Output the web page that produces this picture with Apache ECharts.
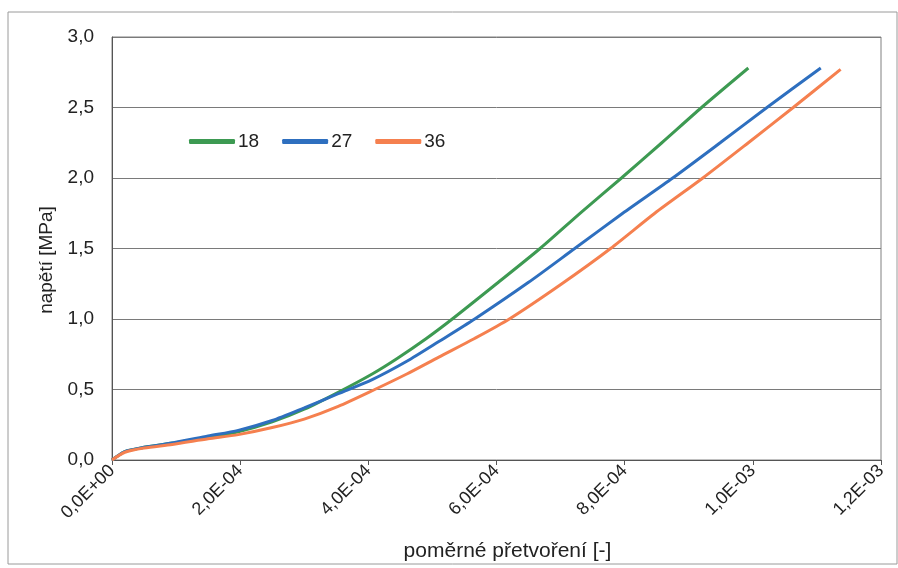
<!DOCTYPE html>
<html>
<head>
<meta charset="utf-8">
<script src="https://cdn.jsdelivr.net/npm/echarts@6/dist/echarts.min.js"></script>
<style>html,body{margin:0;padding:0;background:#fff}#c{width:898px;height:568px}</style>
</head>
<body>
<div id="c"></div>
<script>
// Series names
const seriesNames = ['18', '27', '36'];
// [strain, stress MPa]
const s18 = [[0,0],[0.2e-4,0.06],[0.5e-4,0.09],[0.94e-4,0.12],[1.5e-4,0.16],[1.97e-4,0.20],[2.5e-4,0.27],[3.0e-4,0.36],[3.53e-4,0.48],[4.06e-4,0.61],[4.45e-4,0.72],[4.9e-4,0.86],[5.31e-4,1.0],[6.0e-4,1.25],[6.68e-4,1.5],[7.33e-4,1.76],[7.95e-4,2.0],[8.58e-4,2.25],[9.2e-4,2.5],[9.93e-4,2.78]];
const s27 = [[0,0],[0.2e-4,0.06],[0.5e-4,0.09],[0.94e-4,0.12],[1.5e-4,0.17],[1.97e-4,0.21],[2.5e-4,0.28],[3.0e-4,0.37],[3.53e-4,0.47],[4.06e-4,0.57],[4.6e-4,0.70],[5.1e-4,0.84],[5.66e-4,1.0],[6.5e-4,1.26],[7.22e-4,1.5],[7.97e-4,1.75],[8.75e-4,2.0],[9.49e-4,2.25],[1.022e-3,2.5],[1.106e-3,2.78]];
const s36 = [[0,0],[0.2e-4,0.055],[0.5e-4,0.085],[0.94e-4,0.11],[1.5e-4,0.15],[1.97e-4,0.18],[2.5e-4,0.23],[3.0e-4,0.29],[3.53e-4,0.38],[4.1e-4,0.5],[4.6e-4,0.61],[5.1e-4,0.73],[5.65e-4,0.86],[6.2e-4,1.0],[7.02e-4,1.25],[7.78e-4,1.5],[8.47e-4,1.75],[9.22e-4,2.0],[9.93e-4,2.25],[1.063e-3,2.5],[1.137e-3,2.77]];
// Axis ranges / ticks
const xTicks = [0, 2e-4, 4e-4, 6e-4, 8e-4, 1e-3, 1.2e-3];
const yTicks = [0, 0.5, 1.0, 1.5, 2.0, 2.5, 3.0];
const colors = ['#3d9a52', '#2e6fbf', '#f5804f'];

function fmtExp(v) {
  if (Math.abs(v) < 1e-12) return '0,0E+00';
  let e = Math.floor(Math.log10(Math.abs(v)) + 1e-9);
  let m = v / Math.pow(10, e);
  let ms = m.toFixed(1).replace('.', ',');
  let es = (e < 0 ? '-' : '+') + String(Math.abs(e)).padStart(2, '0');
  return ms + 'E' + es;
}

const chart = echarts.init(document.getElementById('c'));
const font = 'Liberation Sans, Arial, sans-serif';
chart.setOption({
  animation: false,
  backgroundColor: '#fff',
  graphic: [{
    type: 'rect', shape: {x: 8, y: 12, width: 889, height: 552},
    style: {fill: 'none', stroke: '#9a9a9a', lineWidth: 1}, z: -1
  }],
  grid: {left: 112, top: 37, right: 17, bottom: 108, show: true, borderColor: '#808080', borderWidth: 1, backgroundColor: '#fff'},
  legend: {
    data: seriesNames, left: 184, top: 127, itemWidth: 46, itemHeight: 5, itemGap: 23,
    icon: 'roundRect',
    textStyle: {fontFamily: font, fontSize: 19, color: '#222', padding: [0, 0, 0, -2]}
  },
  xAxis: {
    type: 'value', min: xTicks[0], max: xTicks[xTicks.length - 1], interval: 2e-4,
    name: 'poměrné přetvoření [-]', nameLocation: 'middle', nameGap: 81,
    nameTextStyle: {fontFamily: font, fontSize: 21, color: '#222', padding: [0, 0, 0, 22]},
    axisLine: {show: true, lineStyle: {color: '#555', width: 1}},
    axisTick: {show: true, length: 5, lineStyle: {color: '#555'}},
    splitLine: {show: false},
    axisLabel: {rotate: 45, margin: 8, fontFamily: font, fontSize: 18, color: '#222', formatter: fmtExp}
  },
  yAxis: {
    type: 'value', min: yTicks[0], max: yTicks[yTicks.length - 1], interval: 0.5,
    name: 'napětí [MPa]', nameLocation: 'middle', nameGap: 47, nameRotate: 90,
    nameTextStyle: {fontFamily: font, fontSize: 19, color: '#222', padding: [0, 23, 0, 0]},
    axisLine: {show: true, lineStyle: {color: '#555', width: 1}},
    axisTick: {show: false},
    splitLine: {show: true, lineStyle: {color: '#7a7a7a', width: 1}},
    axisLabel: {margin: 18, fontFamily: font, fontSize: 19, color: '#222', formatter: v => v.toFixed(1).replace('.', ',')}
  },
  series: [s18, s27, s36].map((d, i) => ({
    name: seriesNames[i], type: 'line', data: d, showSymbol: false, smooth: 0.25,
    lineStyle: {color: colors[i], width: 3}, itemStyle: {color: colors[i]}
  }))
});
</script>
</body>
</html>
